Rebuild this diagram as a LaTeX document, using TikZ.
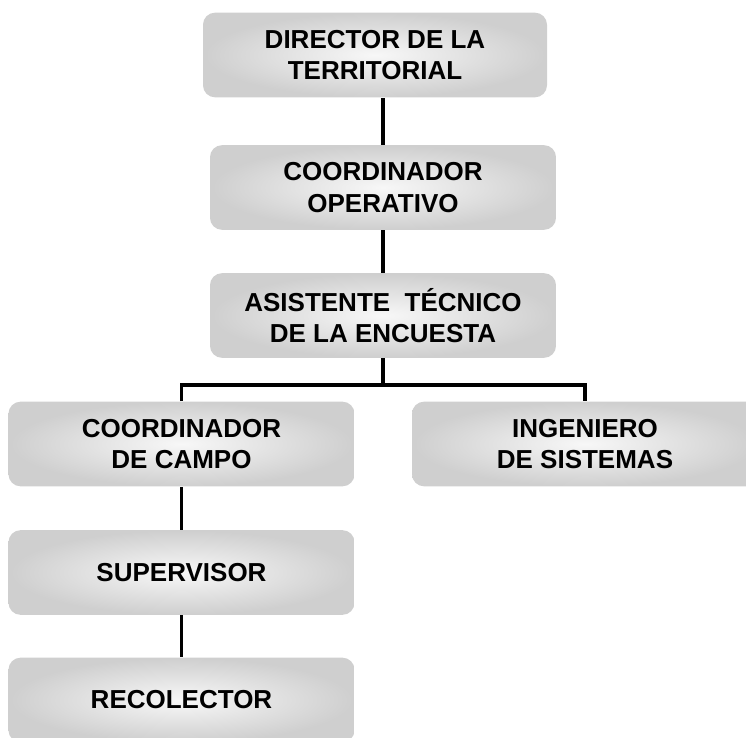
\documentclass[tikz,border=0pt]{standalone}
\usepackage{fontspec}
\setmainfont{Liberation Sans}
\usetikzlibrary{positioning}

\tikzset{every picture/.style={line width=0.75pt}}
\tikzset{
  cargo/.style={rounded corners=9pt, inner color=gray!6, outer color=gray!38,
    minimum width=259.5pt, minimum height=63.5pt, align=center,
    font=\bfseries\fontsize{19.5}{23.5}\selectfont, inner sep=0pt},
  enlace/.style={line width=2.5pt}
}

\begin{document}
\begin{tikzpicture}[x=0.75pt,y=0.75pt,yscale=-1,xscale=1]
		\useasboundingbox (0,0) rectangle (746,738);

		% Cargos
		\node [cargo, minimum width=258pt] (dir) at (375,55) {DIRECTOR DE LA\\TERRITORIAL};
		\node [cargo] (oper) at (383,187.5) {COORDINADOR\\OPERATIVO};
		\node [cargo] (asis) at (383,315.5) {ASISTENTE\ \ TÉCNICO\\DE LA ENCUESTA};
		\node [cargo] (campo) at (181.5,444) {COORDINADOR\\DE CAMPO};
		\node [cargo] (ing) at (585,444) {INGENIERO\\DE SISTEMAS};
		\node [cargo] (sup) at (181.5,572.5) {SUPERVISOR};
		\node [cargo] (rec) at (181.5,700) {RECOLECTOR};

		% Bus
		\coordinate (bus) at (383,385);

		% Enlaces
		\draw [enlace] (oper.north) -- (oper.north |- dir.south);
		\draw [enlace] (asis.north) -- (oper.south);
		\draw [enlace] (asis.south) -- (bus);
		\draw [enlace] (campo.north) |- (bus) -| (ing.north);
		\draw [enlace] (campo.south) -- (sup.north);
		\draw [enlace] (sup.south) -- (rec.north);
	\end{tikzpicture}
\end{document}
